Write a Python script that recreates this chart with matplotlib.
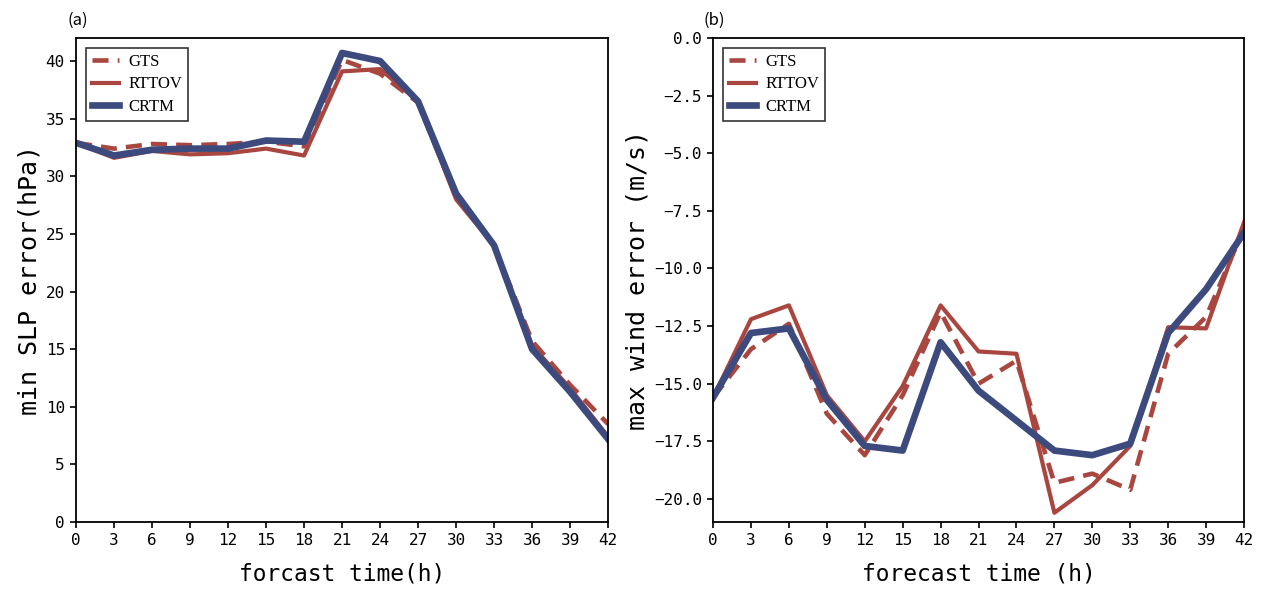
import numpy as np
from matplotlib import pyplot as plt

hours = [0, 3, 6, 9, 12, 15, 18, 21, 24, 27, 30, 33, 36, 39, 42]

# panel (a): min SLP error (hPa)
slp_gts = [32.9, 32.4, 32.8, 32.7, 32.8, 33.0, 32.6, 40.1, 38.9, 36.4, 28.2, 24.0, 15.7, 11.9, 8.5]
slp_rttov = [32.9, 31.6, 32.2, 31.9, 32.0, 32.4, 31.8, 39.1, 39.3, 36.5, 28.0, 24.0, 15.3, 11.6, 7.4]
slp_crtm = [32.9, 31.8, 32.3, 32.4, 32.4, 33.1, 33.0, 40.7, 40.0, 36.5, 28.5, 24.0, 15.0, 11.3, 7.2]

# panel (b): max wind error (m/s)
wind_gts = [-15.6, -13.5, -12.4, -16.3, -18.1, -15.5, -11.9, -15.0, -14.0, -19.3, -18.9, -19.6, -13.7, -12.1, -8.25]
wind_rttov = [-15.6, -12.2, -11.6, -15.5, -17.5, -15.1, -11.6, -13.6, -13.7, -20.6, -19.4, -17.7, -12.55, -12.6, -8.0]
wind_crtm = [-15.6, -12.8, -12.6, -15.7, -17.7, -17.9, -13.2, -15.3, -16.6, -17.9, -18.1, -17.6, -12.8, -10.9, -8.45]

red = '#A8463F'
blue = '#3C4A7E'
mono = 'DejaVu Sans Mono'


def draw_panel(ax, gts, rttov, crtm, ylim, yticks, ylabel, xlabel, tag, yfmt):
    ax.plot(hours, gts, color=red, linewidth=3.3, linestyle=(0, (3.5, 2)), label='GTS')
    ax.plot(hours, rttov, color=red, linewidth=3.0, label='RTTOV')
    ax.plot(hours, crtm, color=blue, linewidth=4.8, label='CRTM')
    ax.set_xlim(0, 42)
    ax.set_ylim(*ylim)
    ax.set_xticks(hours)
    ax.set_yticks(yticks)
    ax.set_yticklabels([yfmt.format(v).replace('-', '\u2212') for v in yticks])
    ax.tick_params(direction='out', length=4, width=1.2, labelsize=11.5, pad=4)
    for lab in ax.get_xticklabels() + ax.get_yticklabels():
        lab.set_family(mono)
    for sp in ax.spines.values():
        sp.set_linewidth(1.3)
    ax.set_xlabel(xlabel, fontsize=16.5, family=mono, labelpad=10)
    ax.set_ylabel(ylabel, fontsize=18, family=mono, labelpad=3)
    ax.text(0.003, 1.018, tag, transform=ax.transAxes, fontsize=12,
            family=['Noto Sans CJK SC', 'DejaVu Sans'], ha='center', va='bottom')
    leg = ax.legend(loc='upper left', prop={'family': 'Liberation Serif', 'size': 12},
                    frameon=True, fancybox=False, edgecolor='black',
                    handlelength=1.6, handletextpad=0.6, borderaxespad=0.6,
                    labelspacing=0.4, borderpad=0.35)
    leg.get_frame().set_linewidth(1.2)


fig = plt.figure(figsize=(12.69, 5.99), dpi=100)
ax1 = fig.add_axes([0.0599, 0.1285, 0.4193, 0.8081])
ax2 = fig.add_axes([0.5619, 0.1285, 0.4184, 0.8081])

draw_panel(ax1, slp_gts, slp_rttov, slp_crtm, (0, 42), np.arange(0, 41, 5),
           'min SLP error(hPa)', 'forcast time(h)', '(a)', '{:.0f}')
draw_panel(ax2, wind_gts, wind_rttov, wind_crtm, (-21, 0), np.arange(-20, 0.1, 2.5),
           'max wind error (m/s)', 'forecast time (h)', '(b)', '{:.1f}')

fig.savefig('out.png', dpi=100)
